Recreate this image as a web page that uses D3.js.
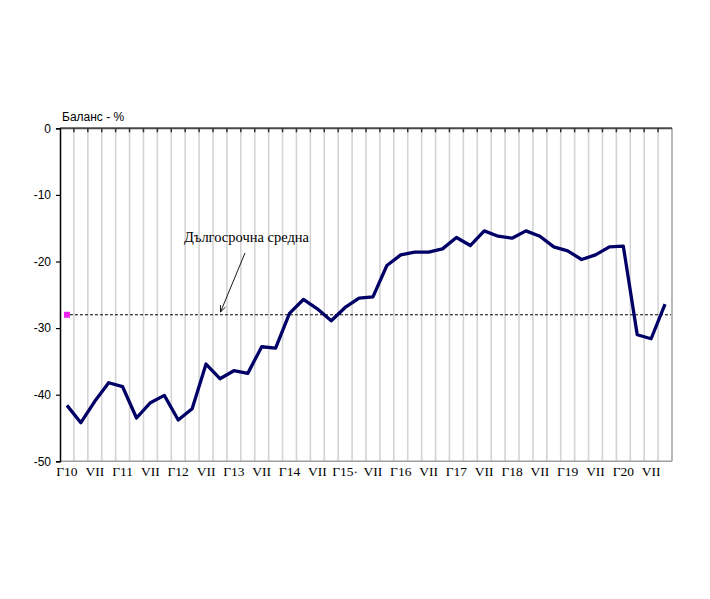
<!DOCTYPE html>
<html><head><meta charset="utf-8">
<script src="https://cdn.jsdelivr.net/npm/d3@7"></script>
<style>body{margin:0;background:#fff}svg{display:block}</style>
</head><body>
<script>
const years = ["10","11","12","13","14","15","16","17","18","19","20"];
const months = ["I","IV","VII","X"];
const categories = [];
years.forEach(y => months.forEach(m => categories.push(m + "'" + y)));
const balance = [
  -41.6,-44.2,-41.0,-38.2, -38.8,-43.5,-41.2,-40.1, -43.8,-42.1,-35.4,-37.6,
  -36.4,-36.8,-32.8,-33.0, -27.8,-25.7,-27.1,-28.9, -26.9,-25.5,-25.3,-20.6,
  -19.0,-18.6,-18.6,-18.1, -16.4,-17.6,-15.4,-16.2, -16.5,-15.4,-16.2,-17.8,
  -18.4,-19.7,-19.0,-17.8, -17.7,-31.0,-31.6,-26.4
];
const longTermAverage = -28.0;
const yTicks = [0,-10,-20,-30,-40,-50];
const tickLabel = (c) => {
  const [m, y] = c.split("'");
  if (m === "I") return (y === "15" ? "Г15·" : "Г" + y);
  if (m === "VII") return "VII";
  return "";
};
const yTitle = "Баланс - %";
const noteText = "Дългосрочна средна";

(function () {
const W = 710, H = 599;
const pL = 60, pR = 672, pT = 128.3, pB = 461.3;
const svg = d3.select("body").append("svg").attr("width", W).attr("height", H);

const x = d3.scaleBand().domain(categories).range([pL, pR]);
const y = d3.scaleLinear().domain([-50, 0]).range([pB, pT]);
const cx = c => x(c) + x.bandwidth() / 2;

// vertical grid lines at category boundaries
svg.append("g").selectAll("line").data(categories.slice(1)).join("line")
  .attr("x1", d => x(d)).attr("x2", d => x(d))
  .attr("y1", pT).attr("y2", pB)
  .attr("stroke", "#d4d4d4").attr("stroke-width", 1.6);

// right and bottom border
svg.append("line").attr("x1", pR).attr("x2", pR).attr("y1", pT).attr("y2", pB)
  .attr("stroke", "#a0a0a0").attr("stroke-width", 1.5);
svg.append("line").attr("x1", pL).attr("x2", pR).attr("y1", pB).attr("y2", pB)
  .attr("stroke", "#a0a0a0").attr("stroke-width", 1.5);

// top category axis (crosses at 0) with ticks
const xAxisTop = svg.append("g").attr("transform", `translate(0,${y(0)})`);
xAxisTop.append("line").attr("x1", pL).attr("x2", pR).attr("y1", 0).attr("y2", 0)
  .attr("stroke", "#4a4a4a").attr("stroke-width", 2);
xAxisTop.selectAll("line.t").data(categories.slice(1)).join("line").attr("class", "t")
  .attr("x1", d => x(d)).attr("x2", d => x(d)).attr("y1", 0).attr("y2", 4)
  .attr("stroke", "#333").attr("stroke-width", 1.5);

// x tick labels at bottom
svg.append("g").selectAll("text").data(categories.filter(c => tickLabel(c) !== "")).join("text")
  .attr("x", d => cx(d)).attr("y", pB + 15)
  .attr("text-anchor", "middle")
  .attr("font-family", "Liberation Serif, Times New Roman, serif")
  .attr("font-size", 13.5).attr("fill", "#000")
  .text(d => tickLabel(d));

// y axis
const yAxis = d3.axisLeft(y).tickValues(yTicks).tickSize(4).tickFormat(d3.format("d"));
const gy = svg.append("g").attr("transform", `translate(${pL},0)`).call(yAxis);
gy.select(".domain").attr("stroke", "#000").attr("stroke-width", 1.5);
gy.selectAll(".tick line").attr("stroke", "#000").attr("stroke-width", 1.2);
gy.selectAll(".tick text").attr("font-family", "Liberation Sans, Arial, sans-serif")
  .attr("font-size", 12).attr("fill", "#000").attr("x", -9)
  .text(d => d === 0 ? "0" : "-" + Math.abs(d));

// y title
svg.append("text").attr("x", 62).attr("y", 121)
  .attr("font-family", "Liberation Sans, Arial, sans-serif").attr("font-size", 12)
  .text(yTitle);

// long-term average dashed line
svg.append("line")
  .attr("x1", cx(categories[0]) + 3).attr("x2", pR - 1)
  .attr("y1", y(longTermAverage)).attr("y2", y(longTermAverage))
  .attr("stroke", "#000").attr("stroke-width", 1).attr("stroke-dasharray", "3,2");
svg.append("rect")
  .attr("x", cx(categories[0]) - 3).attr("y", y(longTermAverage) - 3)
  .attr("width", 6).attr("height", 6).attr("fill", "#ee22ee");

// main line
const line = d3.line().x((d, i) => cx(categories[i])).y(d => y(d));
svg.append("path").datum(balance).attr("d", line)
  .attr("fill", "none").attr("stroke", "#000066").attr("stroke-width", 3.3)
  .attr("stroke-linejoin", "round");

// annotation
svg.append("text").attr("x", 184).attr("y", 242)
  .attr("font-family", "Liberation Serif, Times New Roman, serif").attr("font-size", 14.5)
  .text(noteText);
const ax1 = 245, ay1 = 253, ax2 = 220.5, ay2 = 312;
svg.append("line").attr("x1", ax1).attr("y1", ay1).attr("x2", ax2).attr("y2", ay2)
  .attr("stroke", "#000").attr("stroke-width", 0.9);
const ang = Math.atan2(ay2 - ay1, ax2 - ax1);
const hl = 7, hw = 0.4;
svg.append("path")
  .attr("d", `M${ax2 - hl*Math.cos(ang - hw)},${ay2 - hl*Math.sin(ang - hw)} L${ax2},${ay2} L${ax2 - hl*Math.cos(ang + hw)},${ay2 - hl*Math.sin(ang + hw)}`)
  .attr("fill", "none").attr("stroke", "#000").attr("stroke-width", 0.9);
})();
</script>
</body></html>
